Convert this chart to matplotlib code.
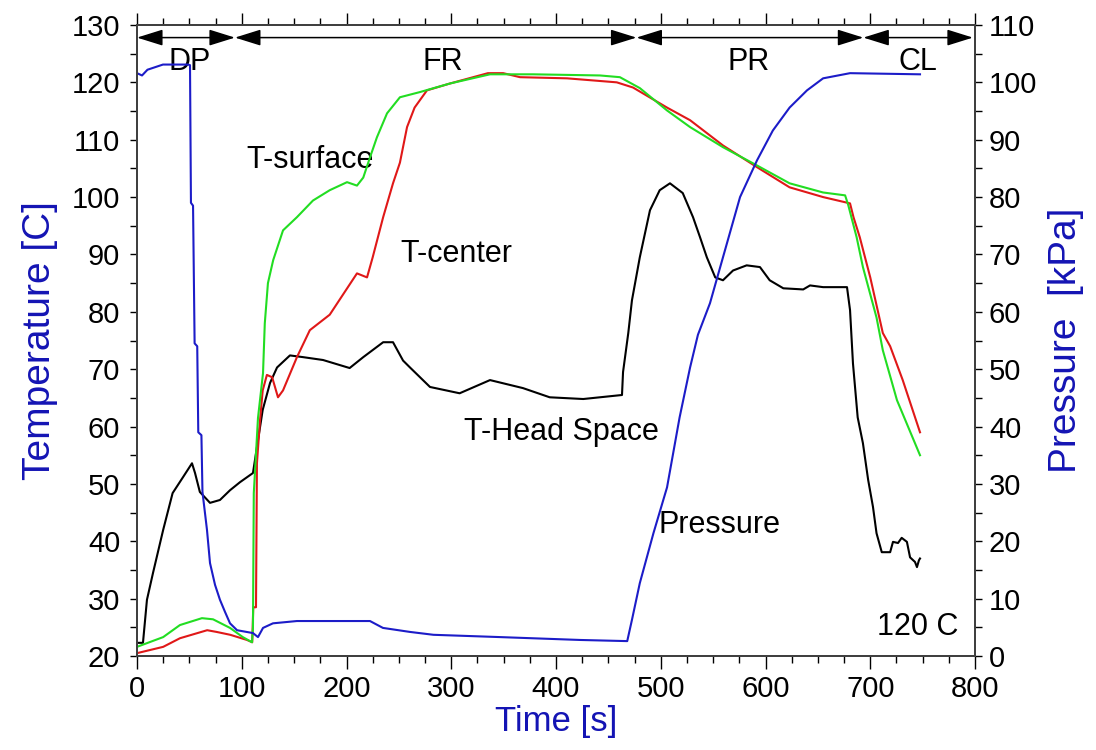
import matplotlib
matplotlib.use("Agg")
import matplotlib.pyplot as plt
from matplotlib.patches import FancyArrowPatch
from matplotlib.ticker import MultipleLocator

plt.rcParams['font.family'] = ['Liberation Sans', 'DejaVu Sans']

# chamber pressure [kPa]
t_pres = [0, 4.8, 10, 24.8, 48.7, 50.6, 51.5, 53.5, 55, 57.5, 58.5, 61.5, 62.5,
          66.8, 69.7, 74.5, 79.2, 84, 88.8, 95.5, 110.7, 115.5, 120.3, 129.8,
          152.7, 222.4, 234.8, 260.6, 283, 346.5, 423, 468, 472.5, 480, 493,
          506, 518, 528, 535.5, 547, 559.4, 575.7, 591.9, 607, 623, 639.6, 655,
          680.7, 747.5]
pres = [101.6, 101.2, 102.2, 103.1, 103.1, 103.0, 79, 78.5, 54.5, 54, 39, 38.5,
        28.6, 22, 16.2, 12.4, 9.8, 7.7, 5.7, 4.5, 4.0, 3.3, 4.9, 5.7,
        6.1, 6.1, 4.9, 4.2, 3.7, 3.3, 2.8, 2.6, 6.3, 12.7, 21.4,
        29.4, 41.6, 50.3, 56.0, 61.5, 69.5, 80, 86.4, 91.6, 95.6, 98.6, 100.7,
        101.6, 101.4]

# surface temperature [C]
t_surf = [0, 25, 41, 62, 72.6, 88.8, 101, 109.8, 110.7, 111.5, 115.5, 120.3,
          122, 125, 130, 139.4, 152.7, 168, 184, 200.5, 210, 216, 222.4, 229,
          238.7, 251, 270, 298.8, 337, 378, 442, 461, 480, 506, 528, 559.4,
          592, 623, 655, 676, 679, 687, 693, 706, 712, 725.5, 747.5]
t_surface = [21.6, 23.3, 25.4, 26.6, 26.4, 24.9, 23.3, 22.4, 25, 48.4, 61.5, 69.3,
             78, 85, 89, 94.2, 96.5, 99.4, 101.2, 102.6, 102, 103.4, 106.9, 110.4,
             114.6, 117.4, 118.3, 119.8, 121.4, 121.4, 121.2, 120.9, 119, 115.1, 112.2, 108.7,
             105.5, 102.4, 100.8, 100.3, 98.6, 93, 87.8, 79, 73.3, 64.6, 55]

# center temperature [C]
t_cent = [0, 25, 41, 67, 76, 89, 105, 110, 111, 113.6, 114.5, 117.4, 120, 124,
          129, 134.6, 139.4, 152.7, 165, 184, 210, 219.6, 225, 235, 244.4, 251,
          257.8, 265, 276.8, 298.8, 335, 349.6, 365.6, 410.5, 458, 473.5, 506,
          528, 559.4, 592, 623, 655, 680.7, 684, 690, 700, 712, 719, 731, 747.5]
t_center = [20.5, 21.6, 23.1, 24.5, 24.2, 23.7, 22.8, 22.4, 28.5, 28.5, 53.6, 61, 66.3, 69,
            68.6, 65.1, 66.3, 72.1, 76.8, 79.5, 86.7, 86, 89.5, 96.5, 102.4, 106,
            112.2, 115.6, 118.6, 119.8, 121.6, 121.6, 120.9, 120.7, 120, 119.1, 115.6,
            113.4, 109, 105.2, 101.7, 100, 98.9, 96.5, 93, 86, 76.3, 74, 68.1, 59]

# head space temperature [C]
t_head = [0, 5.7, 9.5, 15.3, 25, 34, 44, 52.5, 55.4, 60, 69.7, 79.2, 88.8, 98.3,
          110.7, 115.5, 120, 127, 133.7, 146, 158.5, 177.6, 203, 216, 235, 244.4,
          254, 260.6, 279.7, 308, 337, 368.5, 394, 426, 463, 464, 469, 472.5,
          480, 489.7, 499, 508.8, 521, 530.8, 537.5, 544, 552, 559.4, 569, 582,
          594.7, 604, 617, 636, 642.5, 655, 677.8, 680.7, 683.5, 688, 693, 698,
          702.6, 706, 711, 719, 721.7, 726.5, 730, 735, 738, 742.7, 744.6,
          746.5, 747.5]
t_headspace = [22.3, 22.3, 29.8, 34.5, 42, 48.4, 51.2, 53.6, 51.9, 48.6, 46.7, 47.2, 48.9, 50.3,
               51.9, 57.6, 62.9, 67.6, 70.3, 72.4, 72.1, 71.6, 70.2, 72.1, 74.7, 74.7,
               71.5, 70.3, 66.9, 65.8, 68.1, 66.7, 65.1, 64.8, 65.5, 69.5, 76.3, 82,
               89.5, 97.7, 101.2, 102.4, 100.7, 96.5, 93, 89.5, 86, 85.5, 87.2, 88.1,
               87.8, 85.5, 84.1, 83.9, 84.6, 84.3, 84.3, 80.3, 71, 61.6, 57.1, 50.7,
               46, 41.4, 38.1, 38.1, 39.9, 39.7, 40.6, 39.9, 37.2, 36.4, 35.5,
               36.7, 37]

# process stages along the top
stage_names = ['DP', 'FR', 'PR', 'CL']
stage_edges = [0, 93.5, 476.8, 693.4, 798]
stage_label_x = [50.6, 292, 584, 745.6]

axis_blue = '#1414b4'

fig = plt.figure(figsize=(10.96, 7.5), dpi=100)
ax = fig.add_axes([0.125, 0.1253, 0.7646, 0.8414])
ax2 = ax.twinx()

ax.plot(t_head, t_headspace, color='black', lw=1.5, zorder=3)
ax.plot(t_cent, t_center, color='#e01818', lw=1.5, zorder=4)
ax.plot(t_surf, t_surface, color='#22dd22', lw=1.5, zorder=5)
ax2.plot(t_pres, pres, color='#1c1cc8', lw=1.5)

ax.set_xlim(0, 800)
ax.set_ylim(20, 130)
ax2.set_ylim(0, 110)

ax.xaxis.set_major_locator(MultipleLocator(100))
ax.xaxis.set_minor_locator(MultipleLocator(25))
ax.yaxis.set_major_locator(MultipleLocator(10))
ax.yaxis.set_minor_locator(MultipleLocator(5))
ax2.yaxis.set_major_locator(MultipleLocator(10))
ax2.yaxis.set_minor_locator(MultipleLocator(5))

ax.tick_params(axis='x', which='major', direction='out', length=9, width=1,
               labelsize=21, top=True, pad=5)
ax.tick_params(axis='x', which='minor', direction='out', length=5, width=1, top=True)
ax.tick_params(axis='y', which='both', direction='out', length=5, width=1,
               labelsize=21, pad=7)
ax2.tick_params(axis='y', which='both', direction='out', length=5, width=1,
                labelsize=21, pad=5)

for a in (ax, ax2):
    for s in a.spines.values():
        s.set_color('#404040')
        s.set_linewidth(1.4)

ax.set_xlabel('Time [s]', fontsize=25, color=axis_blue, labelpad=1)
ax.set_ylabel('Temperature [C]', fontsize=28, color=axis_blue, labelpad=10)
ax2.set_ylabel('Pressure  [kPa]', fontsize=28, color=axis_blue, labelpad=8)

# stage arrows with heads meeting at each boundary
for i, name in enumerate(stage_names):
    arr = FancyArrowPatch((stage_edges[i], 127.8), (stage_edges[i + 1], 127.8),
                          arrowstyle='<|-|>,head_length=1.6,head_width=0.5',
                          mutation_scale=10, shrinkA=0, shrinkB=0,
                          color='black', lw=1.1, zorder=6)
    ax.add_patch(arr)
    ax.text(stage_label_x[i], 122.1, name, fontsize=22, ha='center', va='baseline')

ax.text(165, 105.0, 'T-surface', fontsize=22, ha='center', va='baseline')
ax.text(305, 88.6, 'T-center', fontsize=22, ha='center', va='baseline')
ax.text(405.4, 57.6, 'T-Head Space', fontsize=22, ha='center', va='baseline')
ax.text(497.4, 41.4, 'Pressure', fontsize=22, ha='left', va='baseline')
ax.text(783.8, 23.7, '120 C', fontsize=22, ha='right', va='baseline')

fig.savefig('out.png', dpi=100)
